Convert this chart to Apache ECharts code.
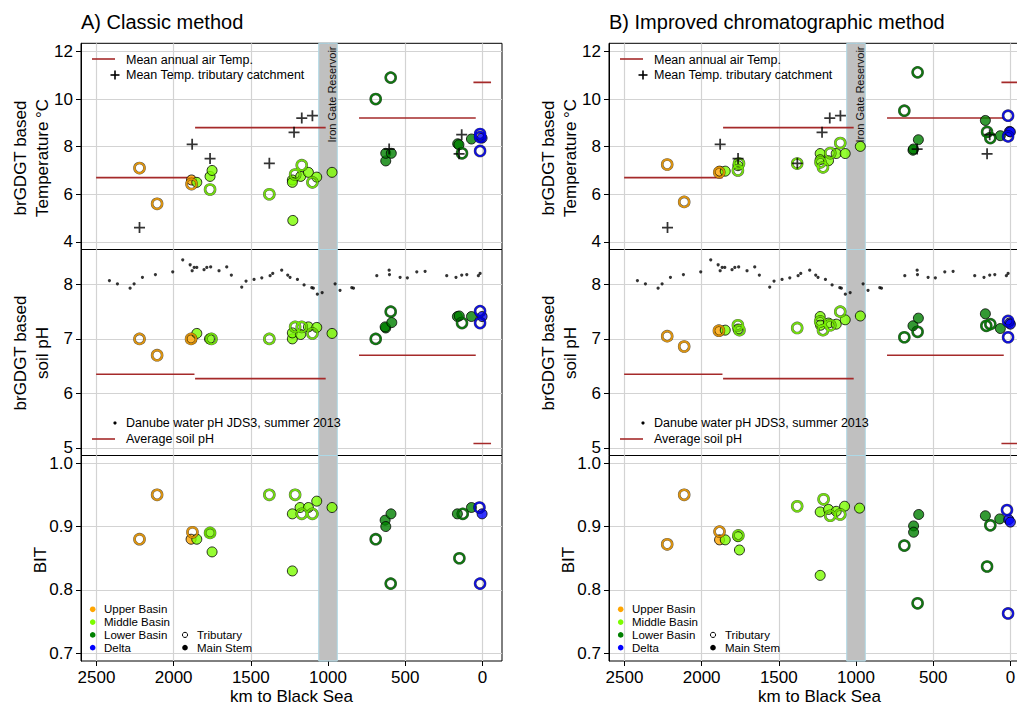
<!DOCTYPE html>
<html><head><meta charset="utf-8">
<script src="https://cdn.jsdelivr.net/npm/echarts@6/dist/echarts.min.js"></script>
<style>html,body{margin:0;padding:0;background:#fff}#c{width:1017px;height:706px}</style>
</head><body><div id="c"></div>
<script>
// ---------- DATA ----------
// sample rows: [km to Black Sea, value, basin (0 Upper,1 Middle,2 Lower,3 Delta), mainStem (1) / tributary (0)]
const tempA = [
 [2221,7.1,0,0],[2107,5.6,0,0],[1884,6.6,0,1],[1884,6.43,0,0],
 [1850,6.5,1,1],[1764,6.75,1,1],[1751,7.0,1,1],[1764,6.2,1,0],[1380,6.0,1,0],[1231,6.6,1,1],[1231,6.5,1,1],
 [1213,6.83,1,0],[1228,4.9,1,1],[1170,7.22,1,0],[1177,6.75,1,1],[1127,6.92,1,1],[1101,6.5,1,0],[1073,6.72,1,1],[974,6.92,1,1],
 [691,10.0,2,0],[594,10.9,2,0],[626,7.4,2,1],[626,7.72,2,1],[590,7.72,2,1],[160,8.12,2,1],[152,8.08,2,1],[132,7.72,2,0],[71,8.32,2,1],
 [15,8.53,3,0],[15,7.82,3,0],[15,8.4,3,0],[2,8.36,3,1]
];
const phA = [
 [2221,7.0,0,0],[2107,6.7,0,0],[1883,7.0,0,1],[1887,7.0,0,0],
 [1850,7.1,1,1],[1768,7.0,1,1],[1755,7.0,1,0],[1380,7.0,1,0],[1231,7.0,1,1],[1231,7.11,1,1],[1213,7.22,1,0],
 [1170,7.22,1,0],[1177,7.08,1,1],[1127,7.22,1,1],[1101,7.1,1,0],[1073,7.21,1,1],[974,7.1,1,1],
 [691,7.0,2,0],[594,7.5,2,0],[626,7.2,2,1],[630,7.22,2,1],[587,7.3,2,1],[162,7.41,2,1],[150,7.42,2,1],[132,7.29,2,0],[71,7.41,2,1],
 [15,7.51,3,0],[15,7.29,3,0],[2,7.41,3,1]
];
const bitA = [
 [2221,0.88,0,0],[2107,0.95,0,0],[1878,0.891,0,0],[1887,0.88,0,1],
 [1850,0.88,1,1],[1764,0.89,1,1],[1764,0.89,1,0],[1751,0.86,1,1],[1380,0.95,1,0],[1231,0.92,1,1],[1231,0.83,1,1],
 [1213,0.95,1,0],[1181,0.93,1,1],[1170,0.92,1,0],[1127,0.93,1,1],[1101,0.92,1,0],[1073,0.94,1,1],[974,0.93,1,1],
 [691,0.88,2,0],[630,0.91,2,1],[626,0.90,2,1],[592,0.92,2,1],[594,0.81,2,0],[162,0.92,2,1],[149,0.85,2,0],[127,0.92,2,0],[71,0.93,2,1],
 [19,0.93,3,0],[15,0.81,3,0],[2,0.92,3,1]
];
const tempB = [
 [2223,7.25,0,0],[2113,5.68,0,0],[1884,6.97,0,1],[1886,6.92,0,0],
 [1847,6.97,1,1],[1765,7.2,1,1],[1758,7.29,1,0],[1765,7.0,1,0],[1381,7.29,1,0],[1232,7.71,1,1],[1232,7.45,1,1],
 [1230,7.34,1,0],[1214,7.13,1,0],[1178,7.41,1,1],[1167,7.73,1,0],[1128,7.71,1,1],[1102,8.15,1,0],[1070,7.71,1,1],[972,8.01,1,1],
 [687,9.51,2,0],[601,11.12,2,0],[631,7.85,2,1],[628,7.9,2,1],[596,8.29,2,1],[162,9.1,2,1],[151,8.62,2,0],[130,8.36,2,0],[65,8.46,2,1],
 [15,9.3,3,0],[15,8.43,3,0],[6,8.64,3,1],[0,8.62,3,1]
];
const phB = [
 [2223,7.05,0,0],[2113,6.86,0,0],[1884,7.15,0,1],[1888,7.15,0,0],
 [1847,7.16,1,1],[1765,7.25,1,0],[1765,7.18,1,1],[1755,7.16,1,0],[1381,7.2,1,0],[1232,7.41,1,1],[1232,7.32,1,0],
 [1230,7.25,1,1],[1214,7.16,1,0],[1178,7.29,1,1],[1167,7.25,1,0],[1128,7.27,1,1],[1102,7.5,1,0],[1070,7.35,1,1],[972,7.42,1,1],
 [687,7.03,2,0],[631,7.24,2,1],[596,7.38,2,1],[601,7.13,2,0],[162,7.46,2,1],[156,7.24,2,0],[130,7.27,2,0],[65,7.19,2,1],
 [15,7.33,3,0],[15,7.03,3,0],[6,7.29,3,1],[0,7.27,3,1]
];
const bitB = [
 [2223,0.872,0,0],[2113,0.95,0,0],[1884,0.892,0,0],[1884,0.879,0,1],
 [1847,0.879,1,1],[1765,0.884,1,1],[1762,0.886,1,0],[1755,0.863,1,1],[1381,0.932,1,0],[1232,0.923,1,1],[1232,0.823,1,1],
 [1210,0.943,1,0],[1178,0.927,1,1],[1167,0.917,1,0],[1128,0.924,1,1],[1102,0.919,1,0],[1074,0.932,1,1],[977,0.929,1,1],
 [687,0.87,2,0],[627,0.901,2,1],[627,0.891,2,1],[594,0.919,2,1],[601,0.779,2,0],[162,0.917,2,1],[151,0.837,2,0],[130,0.902,2,0],[69,0.912,2,1],
 [22,0.926,3,0],[15,0.763,3,0],[11,0.911,3,1],[0,0.907,3,1]
];
// Mean temperature of tributary catchments [km, °C]
const tribTemp = [[2221,4.6],[1880,8.1],[1764,7.5],[1380,7.3],[1220,8.6],[1170,9.2],[1101,9.3],[604,7.9],[134,8.5],[151,7.7]];
// Danube water pH JDS3 summer 2013 [km, pH]
const waterPh = [
 [2416,8.07],[2364,8.01],[2282,7.93],[2256,8.01],[2202,8.13],[2118,8.18],[2006,8.23],[1941,8.45],[1893,8.36],[1880,8.25],
 [1867,8.31],[1850,8.31],[1803,8.27],[1785,8.31],[1760,8.32],[1706,8.25],[1656,8.32],[1626,8.17],[1559,7.95],[1531,8.06],
 [1479,8.09],[1429,8.12],[1375,8.16],[1358,8.20],[1300,8.26],[1261,8.17],[1246,8.13],[1198,8.09],[1155,7.99],[1105,7.94],
 [1095,7.93],[1069,7.82],[1038,7.85],[954,8.01],[922,7.89],[846,7.94],[835,7.93],[684,8.16],[604,8.26],[602,8.18],
 [533,8.13],[486,8.12],[425,8.23],[371,8.24],[231,8.16],[171,8.13],[134,8.17],[101,8.18],[26,8.16],[15,8.20]
];
// regional means: [km from, km to, value]
const airTempSegs = [[2502,1865,6.7],[1861,1015,8.8],[799,43,9.2],[58,-56,10.7]];
const soilPhSegs  = [[2502,1865,6.35],[1861,1015,6.27],[799,43,6.7],[58,-56,5.08]];
const reservoirKm = [940, 1060];
const xTicks = [0,500,1000,1500,2000,2500];
const tempTicks = [4,6,8,10,12];
const phTicks = [5,6,7,8];
const bitTicks = [0.7,0.8,0.9,1.0];
const basinNames = ['Upper Basin','Middle Basin','Lower Basin','Delta'];
const titles = ['A) Classic method','B) Improved chromatographic method'];

// ---------- STYLE / LAYOUT ----------
const COLORS = ['#FFA500','#7CFC00','#008000','#0000FF'];
const FONT = 'Liberation Sans, Arial, Helvetica, sans-serif';
const RED = '#a52a2a';
const colLeft = [81, 609];
const PW = 421;
const rows = [
  {top:43.3, h:206.2, min:3.68, max:12.34, ticks:tempTicks, fmt:v=>String(v)},
  {top:249.5, h:206, min:4.86, max:8.64, ticks:phTicks, fmt:v=>String(v)},
  {top:455.5, h:205.5, min:0.688, max:1.012, ticks:bitTicks, fmt:v=>v.toFixed(1)}
];
const panelData = [[tempA, phA, bitA],[tempB, phB, bitB]];

const grids=[], xAxes=[], yAxes=[], series=[];
for (let c=0;c<2;c++) for (let r=0;r<3;r++){
  const g=c*3+r, row=rows[r], bottom = r===2;
  grids.push({left:colLeft[c], top:row.top, width:PW, height:row.h, show:true, borderColor:'#000', borderWidth:1, backgroundColor:'transparent', containLabel:false, outerBoundsMode:'none'});
  xAxes.push({type:'value', gridIndex:g, min:-127, max:2600, inverse:true,
    axisLine:{show:false, onZero:false},
    axisTick:{show:bottom, inside:false, length:5, lineStyle:{color:'#000', width:1}, customValues:xTicks},
    axisLabel:{show:bottom, fontSize:17, color:'#000', margin:8, fontFamily:FONT, customValues:xTicks, formatter:v=>String(v)},
    splitLine:{show:true, lineStyle:{color:'#d3d3d3', width:1.2}},
    name: bottom ? 'km to Black Sea' : '', nameLocation:'middle', nameGap:27,
    nameTextStyle:{fontSize:17, color:'#000', fontFamily:FONT}});
  yAxes.push({type:'value', gridIndex:g, min:row.min, max:row.max,
    axisLine:{show:true, onZero:false, lineStyle:{color:'#000', width:1}},
    axisTick:{show:true, inside:false, length:5, lineStyle:{color:'#000', width:1}, customValues:row.ticks},
    axisLabel:{fontSize:17, lineHeight:13, color:'#000', margin:8, fontFamily:FONT, customValues:row.ticks, formatter:row.fmt},
    splitLine:{show:true, lineStyle:{color:'#d3d3d3', width:1.2}}});
  // reservoir band
  series.push({type:'scatter', xAxisIndex:g, yAxisIndex:g, data:[], silent:true, z:1,
    markArea:{silent:true, itemStyle:{color:'#c0c0c0', borderColor:'#add8e6', borderWidth:1},
      data:[[{xAxis:reservoirKm[1], yAxis:row.min},{xAxis:reservoirKm[0], yAxis:row.max}]]}});
  // regional mean lines
  const segs = r===0 ? airTempSegs : (r===1 ? soilPhSegs : []);
  segs.forEach(s=>series.push({type:'line', xAxisIndex:g, yAxisIndex:g, z:2, silent:true, symbol:'none',
    lineStyle:{color:RED, width:1.6}, data:[[s[0],s[2]],[s[1],s[2]]]}));
  if (r===1) series.push({type:'scatter', xAxisIndex:g, yAxisIndex:g, z:2, silent:true, symbol:'circle', symbolSize:3.2,
    itemStyle:{color:'#000'}, data:waterPh});
  if (r===0) series.push({type:'scatter', xAxisIndex:g, yAxisIndex:g, z:4, silent:true,
    symbol:'path://M4.2,0H5.8V4.2H10V5.8H5.8V10H4.2V5.8H0V4.2H4.2Z', symbolSize:11,
    itemStyle:{color:'#000'}, data:tribTemp});
  const pd = panelData[c][r];
  const main = pd.filter(d=>d[3]===1), trib = pd.filter(d=>d[3]===0);
  // main stem: filled with black outline
  series.push({type:'scatter', xAxisIndex:g, yAxisIndex:g, z:3, silent:true, symbol:'circle', symbolSize:10,
    data: main.map(d=>({value:[d[0],d[1]], itemStyle:{color:COLORS[d[2]], borderColor:'#000', borderWidth:1}}))});
  // tributary: coloured ring with thin dark edges
  series.push({type:'scatter', xAxisIndex:g, yAxisIndex:g, z:3, silent:true, symbol:'circle', symbolSize:10,
    itemStyle:{color:'rgba(0,0,0,0)', borderColor:'rgba(0,0,0,0.85)', borderWidth:2.6},
    data: trib.map(d=>[d[0],d[1]])});
  series.push({type:'scatter', xAxisIndex:g, yAxisIndex:g, z:3, silent:true, symbol:'circle', symbolSize:10,
    data: trib.map(d=>({value:[d[0],d[1]], itemStyle:{color:'rgba(0,0,0,0)', borderColor:COLORS[d[2]], borderWidth:1.9}}))});
}

const chart = echarts.init(document.getElementById('c'), null, {renderer:'svg'});
chart.setOption({animation:false, textStyle:{fontFamily:FONT}, grid:grids, xAxis:xAxes, yAxis:yAxes, series:series});

// ---------- TEXT / LEGENDS ----------
const gr=[];
const T=(x,y,text,size,extra)=>Object.assign({type:'text', x, y, silent:true, z:10,
  style:{text, fill:'#000', fontSize:size, fontFamily:FONT, align:'left', verticalAlign:'middle'}}, extra||{});
for (let c=0;c<2;c++){
  const dx = colLeft[c]-colLeft[0];
  gr.push(T(colLeft[c], 22, titles[c], 20));
  gr.push(T(31+dx, 158, 'brGDGT based\nTemperature\u2009°C', 17, {rotation:Math.PI/2}));
  gr[gr.length-1].style.align='center'; gr[gr.length-1].style.lineHeight=22;
  gr.push(T(31+dx, 353, 'brGDGT based\nsoil pH', 17, {rotation:Math.PI/2}));
  gr[gr.length-1].style.align='center'; gr[gr.length-1].style.lineHeight=22;
  gr.push(T(40+dx, 560, 'BIT', 17, {rotation:Math.PI/2}));
  gr[gr.length-1].style.align='center';
  // iron gate label
  const px = chart.convertToPixel({xAxisIndex:c*3, yAxisIndex:c*3}, [972, rows[0].max]);
  const lab = T(px[0], 46.5, 'Iron Gate Reservoir', 11, {rotation:Math.PI/2});
  lab.style.align='right'; lab.style.fill='#111'; gr.push(lab);
  // temperature legend
  gr.push({type:'line', silent:true, z:10, shape:{x1:92+dx,y1:59,x2:115+dx,y2:59}, style:{stroke:RED, lineWidth:1.6}});
  gr.push(T(126+dx, 60, 'Mean annual air Temp.', 12.5, {}));
  gr.push({type:'line', silent:true, z:10, shape:{x1:110.5+dx,y1:75,x2:119.5+dx,y2:75}, style:{stroke:'#000', lineWidth:1.6}});
  gr.push({type:'line', silent:true, z:10, shape:{x1:115+dx,y1:70.5,x2:115+dx,y2:79.5}, style:{stroke:'#000', lineWidth:1.6}});
  gr.push(T(126+dx, 75, 'Mean Temp. tributary catchment', 12.5, {}));
  // pH legend
  gr.push({type:'circle', silent:true, z:10, shape:{cx:115+dx, cy:423, r:1.6}, style:{fill:'#000'}});
  gr.push(T(126+dx, 423, 'Danube water pH JDS3, summer 2013', 12.5, {}));
  gr.push({type:'line', silent:true, z:10, shape:{x1:92+dx,y1:439,x2:115+dx,y2:439}, style:{stroke:RED, lineWidth:1.6}});
  gr.push(T(126+dx, 439, 'Average soil pH', 12.5, {}));
  // BIT legend
  basinNames.forEach((n,i)=>{
    const y = 609.3 + i*12.8;
    gr.push({type:'circle', silent:true, z:10, shape:{cx:92.7+dx, cy:y, r:2.8}, style:{fill:COLORS[i]}});
    gr.push(T(104+dx, y, n, 11.5, {}));
  });
  gr.push({type:'circle', silent:true, z:10, shape:{cx:185+dx, cy:634.9, r:2.6}, style:{fill:'none', stroke:'#000', lineWidth:1}});
  gr.push(T(197+dx, 634.9, 'Tributary', 11.5, {}));
  gr.push({type:'circle', silent:true, z:10, shape:{cx:185+dx, cy:647.7, r:2.8}, style:{fill:'#000'}});
  gr.push(T(197+dx, 647.7, 'Main Stem', 11.5, {}));
}
chart.setOption({graphic:gr});
</script></body></html>
